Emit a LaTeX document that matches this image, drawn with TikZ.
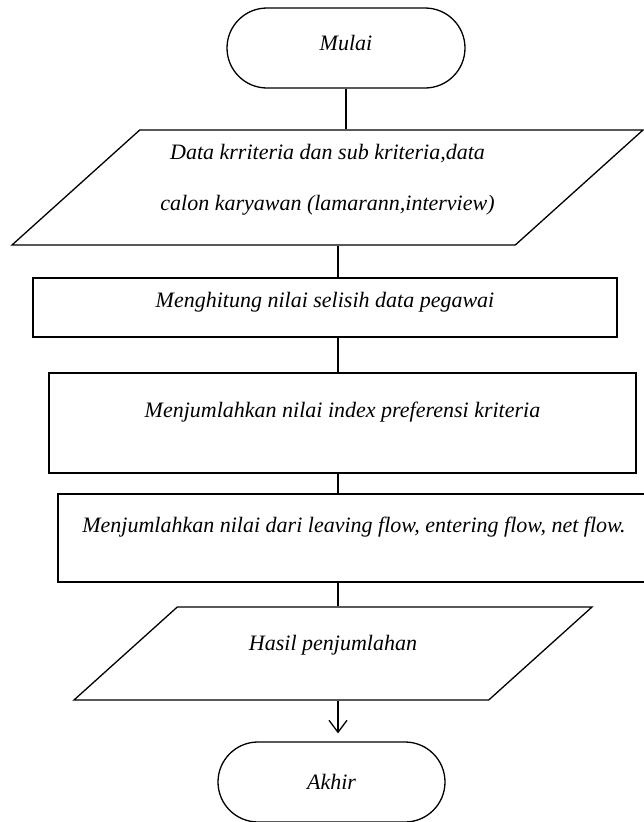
\documentclass[tikz,border=0pt]{standalone}
\usepackage{fontspec}
\setmainfont{Liberation Serif}
\usetikzlibrary{shapes.geometric,shapes.misc,arrows.meta}

\begin{document}
\begin{tikzpicture}[
  x=1pt, y=-1pt,
  every node/.style={font=\fontsize{22}{26}\selectfont\itshape},
  term/.style={rounded rectangle, draw, line width=1.3pt, minimum height=80pt, inner sep=0pt},
  io/.style={trapezium, trapezium left angle=42, trapezium right angle=138,
    trapezium stretches body, draw, line width=1.3pt, inner sep=0pt},
  proc/.style={rectangle, draw, line width=1.3pt, inner sep=0pt},
  flow/.style={line width=1.3pt}
  ]
  \useasboundingbox (0,0) rectangle (643,822);

  % start / end
  \node[term, minimum width=238pt] (mulai) at (346,48) {Mulai\rule[-10pt]{0pt}{10pt}};
  \node[term, minimum width=227pt] (akhir) at (331.5,782) {Akhir};

  % input data
  \node[io, minimum width=631pt, align=center,
    font=\fontsize{22}{51}\selectfont\itshape] (data) at (327.5,187.5)
    {\rule{0pt}{29pt}Data krriteria dan sub kriteria,data\\calon karyawan (lamarann,interview)\rule[-35pt]{0pt}{35pt}};

  % process steps
  \node[proc, minimum width=584pt, minimum height=59pt] (hitung) at (325,307.5)
    {Menghitung nilai selisih data pegawai\rule[-15pt]{0pt}{15pt}};
  \node[proc, minimum width=587pt, minimum height=100pt] (indeks) at (342.5,423)
    {Menjumlahkan nilai index preferensi kriteria\rule[-26pt]{0pt}{26pt}};
  \node[proc, minimum width=592pt, minimum height=88pt] (aliran) at (354,538)
    {Menjumlahkan nilai dari leaving flow, entering flow, net flow.\rule[-26pt]{0pt}{26pt}};

  % output
  \node[io, minimum width=518pt] (hasil) at (333,653.5)
    {Hasil penjumlahan\rule[-50pt]{0pt}{93pt}};

  % connectors
  \coordinate (spine) at (338,0);
  \draw[flow] (mulai.south) -- (mulai.south |- data.north);
  \draw[flow] (spine |- data.south) -- (spine |- hitung.north);
  \draw[flow] (spine |- hitung.south) -- (spine |- indeks.north);
  \draw[flow] (spine |- indeks.south) -- (spine |- aliran.north);
  \draw[flow] (spine |- aliran.south) -- (spine |- hasil.north);
  \draw[flow, -{Straight Barb[length=12pt, width=18pt]}, shorten >=8pt]
    (spine |- hasil.south) -- (spine |- akhir.north);
\end{tikzpicture}
\end{document}
